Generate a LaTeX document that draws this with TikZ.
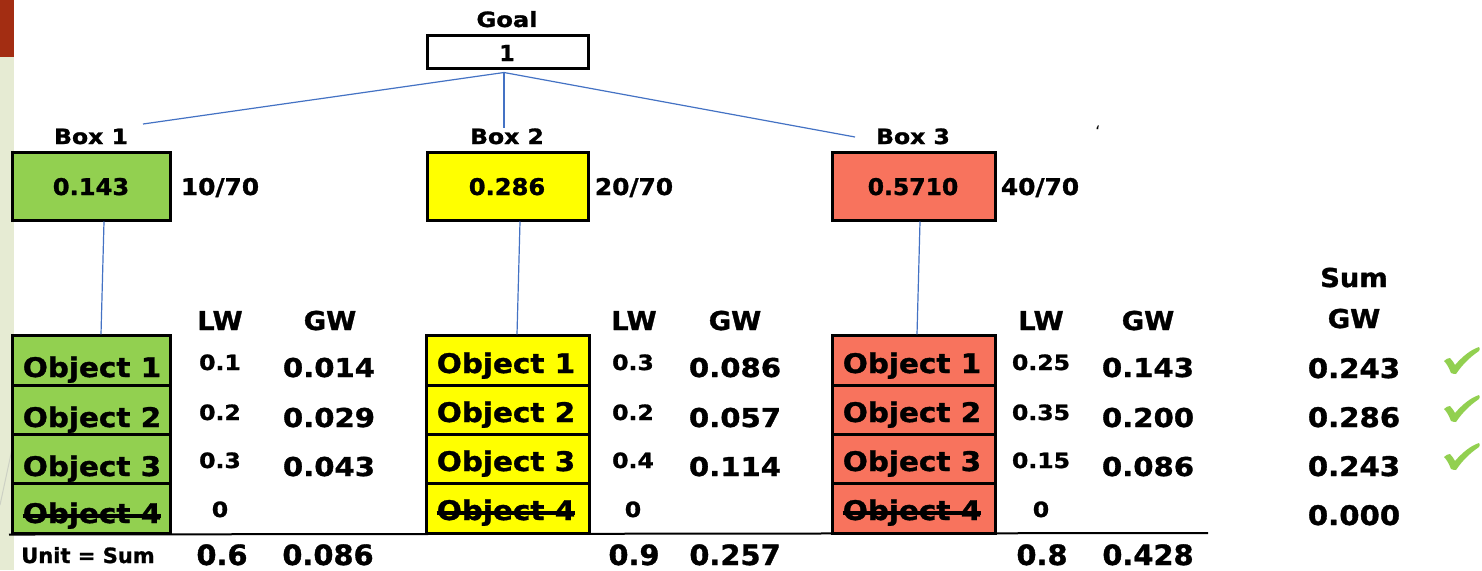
\documentclass[tikz,border=0pt]{standalone}
\usepackage{fontspec}
\setmainfont{DejaVu Sans}[BoldFeatures={FakeBold=1.2}]
\usepackage{graphicx}
\newcommand\tx[3]{\scalebox{#1}[1]{\fontsize{#2pt}{#2pt}\selectfont\bfseries #3}}
\definecolor{bgreen}{HTML}{92D050}
\definecolor{byellow}{HTML}{FFFF00}
\definecolor{bred}{HTML}{F8735D}
\definecolor{lineblue}{HTML}{4472C4}
\definecolor{stripred}{HTML}{A32D12}
\definecolor{stripbeige}{HTML}{E6EBD3}
\definecolor{faint}{HTML}{CDD1C4}
\begin{document}
\begin{tikzpicture}[x=1pt,y=-1pt,
  lbl/.style={inner sep=0pt, anchor=base},
  boxst/.style={draw=black, line width=3pt, inner sep=0pt, rectangle},
  wbox/.style={boxst, minimum width=158, minimum height=68},
  row/.style={boxst, minimum width=#1, minimum height=49.25},
  conn/.style={draw=lineblue, line width=1.2pt},
  strike/.style={line width=3.2pt, black},
  chk/.pic={\fill[bgreen] (0,14) .. controls (2,12) and (4,11) .. (6,11)
      .. controls (8,13) and (10,16) .. (11,18)
      .. controls (18,10) and (26,3) .. (35,0)
      .. controls (36,1) and (36,3) .. (35,4)
      .. controls (26,10) and (18,18) .. (12,27)
      .. controls (11,27) and (9,27) .. (7,26)
      .. controls (5,21) and (3,17) .. (0,14) -- cycle;}
]
\useasboundingbox (0,0) rectangle (1482,570);
\fill[white] (0,0) rectangle (1482,570);
\fill[stripred] (0,0) rectangle (14,57);
\fill[stripbeige] (0,57) rectangle (14,570);
\draw[faint, line width=1pt] (0,505) -- (14,440);

% Goal
\node[lbl] (goallbl) at (507,27) {\tx{1.15}{21}{Goal}};
\node[boxst, minimum width=161, minimum height=33] (goal) at (507.5,51.5) {};
\node[lbl] (goalval) at (507,61) {\tx{1}{22}{1}};

% Box labels
\node[lbl] (b1lbl) at (91,144) {\tx{1.12}{21}{Box 1}};
\node[lbl] (b2lbl) at (507,144) {\tx{1.12}{21}{Box 2}};
\node[lbl] (b3lbl) at (913,144) {\tx{1.12}{21}{Box 3}};
\node[lbl] (tick) at (1098,137) {\fontsize{16pt}{16pt}\selectfont\symbol{96}};

% connectors from goal
\coordinate (gs) at ([xshift=-3.5pt, yshift=-3pt]goal.south);
\coordinate (e1) at (143,124);
\coordinate (e2) at (504,128);
\coordinate (e3) at (855,137);
\draw[conn] (gs) -- (e1);
\draw[conn] (gs) -- (e2);
\draw[conn] (gs) -- (e3);

% weight boxes
\node[wbox, fill=bgreen] (box1) at (91,186) {};
\node[wbox, fill=byellow, minimum width=161] (box2) at (507.5,186) {};
\node[wbox, fill=bred, minimum width=163] (box3) at (913.5,186) {};
\node[lbl] (v1) at (91,195) {\tx{1.05}{23}{0.143}};
\node[lbl] (v2) at (507,195) {\tx{1.05}{23}{0.286}};
\node[lbl] (v3) at (913,195) {\tx{1.02}{23}{0.5710}};
\node[lbl] (r1) at (220,195) {\tx{1.08}{23}{10/70}};
\node[lbl] (r2) at (634,195) {\tx{1.08}{23}{20/70}};
\node[lbl] (r3) at (1040,195) {\tx{1.08}{23}{40/70}};

% object stacks
\node[row=158, fill=bgreen] (g1) at (91,360.6) {};
\node[row=158, fill=bgreen] (g2) at (91,409.9) {};
\node[row=158, fill=bgreen] (g3) at (91,459.1) {};
\node[row=158, fill=bgreen] (g4) at (91,508.4) {};
\node[row=163, fill=byellow] (y1) at (507.5,360.6) {};
\node[row=163, fill=byellow] (y2) at (507.5,409.9) {};
\node[row=163, fill=byellow] (y3) at (507.5,459.1) {};
\node[row=163, fill=byellow] (y4) at (507.5,508.4) {};
\node[row=163, fill=bred] (s1) at (913.5,360.6) {};
\node[row=163, fill=bred] (s2) at (913.5,409.9) {};
\node[row=163, fill=bred] (s3) at (913.5,459.1) {};
\node[row=163, fill=bred] (s4) at (913.5,508.4) {};

% vertical connectors
\draw[conn] ([xshift=13pt]box1.south) -- ([xshift=10pt]g1.north);
\draw[conn] ([xshift=12.5pt]box2.south) -- ([xshift=9.5pt]y1.north);
\draw[conn] ([xshift=6.5pt]box3.south) -- ([xshift=3.5pt]s1.north);

% object labels
\node[lbl] (go1) at (92,377) {\tx{1.09}{27}{Object 1}};
\node[lbl] (go2) at (92,427) {\tx{1.09}{27}{Object 2}};
\node[lbl] (go3) at (92,476) {\tx{1.09}{27}{Object 3}};
\node[lbl] (go4) at (92,523) {\tx{1.09}{27}{Object 4}};
\node[lbl] (yo1) at (506,373) {\tx{1.09}{27}{Object 1}};
\node[lbl] (yo2) at (506,422) {\tx{1.09}{27}{Object 2}};
\node[lbl] (yo3) at (506,471) {\tx{1.09}{27}{Object 3}};
\node[lbl] (yo4) at (506,520) {\tx{1.09}{27}{Object 4}};
\node[lbl] (so1) at (912,373) {\tx{1.09}{27}{Object 1}};
\node[lbl] (so2) at (912,422) {\tx{1.09}{27}{Object 2}};
\node[lbl] (so3) at (912,471) {\tx{1.09}{27}{Object 3}};
\node[lbl] (so4) at (912,520) {\tx{1.09}{27}{Object 4}};
\draw[strike] ([yshift=7pt]go4.base west) -- ([yshift=7pt]go4.base east);
\draw[strike] ([yshift=7pt]yo4.base west) -- ([yshift=7pt]yo4.base east);
\draw[strike] ([yshift=7pt]so4.base west) -- ([yshift=7pt]so4.base east);

% headers
\foreach \x/\n in {220/a,634/b,1041/c} {\node[lbl] (lw\n) at (\x,330) {\tx{1.05}{26}{LW}};}
\foreach \x/\n in {330/a,735/b,1148/c} {\node[lbl] (gw\n) at (\x,330) {\tx{1.05}{26}{GW}};}
\node[lbl] (sumh) at (1354,287) {\tx{1.05}{26}{Sum}};
\node[lbl] (sumgw) at (1354,328) {\tx{1.05}{26}{GW}};

% LW values
\node[lbl] at (220,370) {\tx{1.12}{21}{0.1}};
\node[lbl] at (220,420) {\tx{1.12}{21}{0.2}};
\node[lbl] at (220,468) {\tx{1.12}{21}{0.3}};
\node[lbl] at (220,517) {\tx{1.12}{21}{0}};
\node[lbl] at (633,370) {\tx{1.12}{21}{0.3}};
\node[lbl] at (633,420) {\tx{1.12}{21}{0.2}};
\node[lbl] at (633,468) {\tx{1.12}{21}{0.4}};
\node[lbl] at (633,517) {\tx{1.12}{21}{0}};
\node[lbl] at (1041,370) {\tx{1.12}{21}{0.25}};
\node[lbl] at (1041,420) {\tx{1.12}{21}{0.35}};
\node[lbl] at (1041,468) {\tx{1.12}{21}{0.15}};
\node[lbl] at (1041,517) {\tx{1.12}{21}{0}};

% GW values
\node[lbl] at (329,377) {\tx{1.12}{26}{0.014}};
\node[lbl] at (329,427) {\tx{1.12}{26}{0.029}};
\node[lbl] at (329,476) {\tx{1.12}{26}{0.043}};
\node[lbl] at (735,377) {\tx{1.12}{26}{0.086}};
\node[lbl] at (735,427) {\tx{1.12}{26}{0.057}};
\node[lbl] at (735,476) {\tx{1.12}{26}{0.114}};
\node[lbl] at (1148,377) {\tx{1.12}{26}{0.143}};
\node[lbl] at (1148,427) {\tx{1.12}{26}{0.200}};
\node[lbl] at (1148,476) {\tx{1.12}{26}{0.086}};

% Sum GW column
\node[lbl] (sg1) at (1354,378) {\tx{1.08}{27}{0.243}};
\node[lbl] (sg2) at (1354,427) {\tx{1.08}{27}{0.286}};
\node[lbl] (sg3) at (1354,476) {\tx{1.08}{27}{0.243}};
\node[lbl] (sg4) at (1354,525) {\tx{1.08}{27}{0.000}};
\pic at (1444,347) {chk};
\pic at (1444,395) {chk};
\pic at (1444,443) {chk};

% bottom line and sums
\coordinate (lineend) at (1208,533);
\draw[line width=2pt] ([xshift=-1.5pt]g4.south west) -- (lineend);
\node[lbl] (unit) at (88,563) {\tx{1.0}{21}{Unit = Sum}};
\node[lbl] at (222,565) {\tx{1.03}{28}{0.6}};
\node[lbl] at (328,565) {\tx{1.03}{28}{0.086}};
\node[lbl] at (634,565) {\tx{1.03}{28}{0.9}};
\node[lbl] at (735,565) {\tx{1.03}{28}{0.257}};
\node[lbl] at (1042,565) {\tx{1.03}{28}{0.8}};
\node[lbl] at (1148,565) {\tx{1.03}{28}{0.428}};
\end{tikzpicture}
\end{document}
